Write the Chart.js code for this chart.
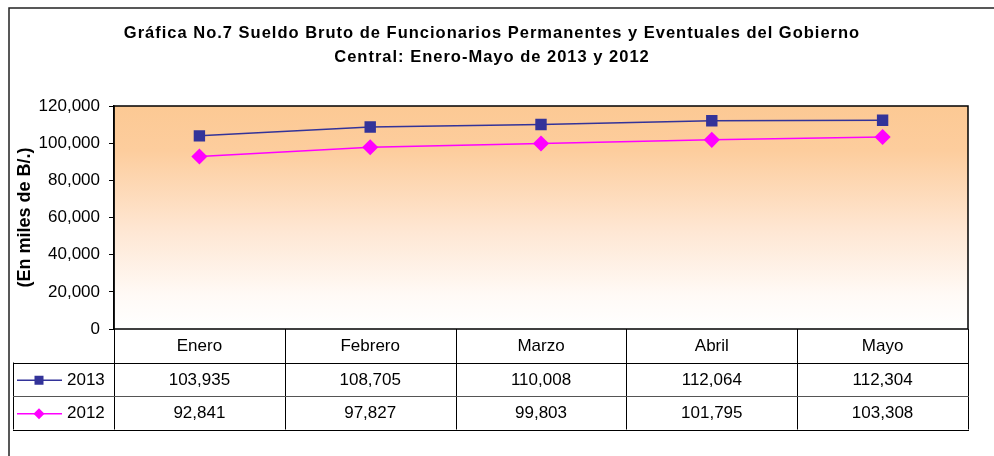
<!DOCTYPE html>
<html>
<head>
<meta charset="utf-8">
<script src="https://cdn.jsdelivr.net/npm/chart.js@4/dist/chart.umd.min.js"></script>
<style>
  html, body { margin: 0; padding: 0; background: #fff; }
  #wrap { width: 994px; height: 456px; }
</style>
</head>
<body>
<div id="wrap"><canvas id="chart" width="994" height="456"></canvas></div>
<script>
// data
const months = ["Enero", "Febrero", "Marzo", "Abril", "Mayo"];
const seriesNames = ["2013", "2012"];
const values2013 = [103935, 108705, 110008, 112064, 112304];
const values2012 = [92841, 97827, 99803, 101795, 103308];
const yTicks = [0, 20000, 40000, 60000, 80000, 100000, 120000];
const titleLines = ["Gráfica No.7 Sueldo Bruto de Funcionarios Permanentes y Eventuales del Gobierno",
                    "Central: Enero-Mayo de 2013 y 2012"];

const FONT = "'Liberation Sans', Arial, sans-serif";
const fmt = (v) => v.toLocaleString("en-US");

// background gradient, frame and title
const plotBack = {
    id: "plotBack",
    beforeDraw(chart) {
        const { ctx, chartArea: a } = chart;
        ctx.save();
        const g = ctx.createLinearGradient(0, a.top, 0, a.bottom);
        g.addColorStop(0, "#fcc994");
        g.addColorStop(0.2, "#fdcd9d");
        g.addColorStop(0.55, "#fee6d2");
        g.addColorStop(0.85, "#fffaf6");
        g.addColorStop(1, "#ffffff");
        ctx.fillStyle = g;
        ctx.fillRect(a.left, a.top, a.right - a.left, a.bottom - a.top);
        // outer frame (left + top)
        ctx.strokeStyle = "#222";
        ctx.lineWidth = 1.5;
        ctx.beginPath();
        ctx.moveTo(9, 456);
        ctx.lineTo(9, 8);
        ctx.lineTo(994, 8);
        ctx.stroke();
        // title (spaced out like the original)
        ctx.fillStyle = "#000";
        ctx.font = "bold 16.5px " + FONT;
        ctx.letterSpacing = "1px";
        ctx.textAlign = "center";
        ctx.textBaseline = "middle";
        ctx.fillText(titleLines[0], 492, 33);
        ctx.fillText(titleLines[1], 492, 57);
        ctx.restore();
    },
    afterDatasetsDraw(chart) {
        const { ctx, chartArea: a } = chart;
        ctx.save();
        ctx.strokeStyle = "#000";
        ctx.lineWidth = 1.5;
        ctx.strokeRect(a.left, a.top, a.right - a.left, a.bottom - a.top);
        ctx.restore();
    }
};

// data table under the plot
const dataTable = {
    id: "dataTable",
    afterDraw(chart) {
        const { ctx, chartArea: a } = chart;
        const xs = chart.scales.x;
        const rowH = 33.5;
        const legendLeft = 13;
        const colW = (a.right - a.left) / months.length;
        const y0 = a.bottom, y1 = y0 + rowH, y2 = y1 + rowH, y3 = y2 + rowH;
        ctx.save();
        ctx.strokeStyle = "#000";
        ctx.lineWidth = 1;
        ctx.beginPath();
        for (let i = 0; i <= months.length; i++) {
            const x = Math.round(a.left + i * colW) + 0.5;
            ctx.moveTo(x, y0);
            ctx.lineTo(x, y3);
        }
        ctx.moveTo(legendLeft + 0.5, y1);
        ctx.lineTo(legendLeft + 0.5, y3);
        [y1, y3].forEach((y) => {
            ctx.moveTo(legendLeft, Math.round(y) + 0.5);
            ctx.lineTo(a.right + 1, Math.round(y) + 0.5);
        });
        ctx.stroke();
        ctx.strokeStyle = "#555";
        ctx.beginPath();
        ctx.moveTo(legendLeft, Math.round(y2) + 0.5);
        ctx.lineTo(a.right + 1, Math.round(y2) + 0.5);
        ctx.stroke();

        ctx.fillStyle = "#000";
        ctx.font = "17px " + FONT;
        ctx.textAlign = "center";
        ctx.textBaseline = "middle";
        months.forEach((m, i) => {
            const x = xs.getPixelForValue(i);
            ctx.fillText(m, x, (y0 + y1) / 2 + 1);
            ctx.fillText(fmt(values2013[i]), x, (y1 + y2) / 2 + 1);
            ctx.fillText(fmt(values2012[i]), x, (y2 + y3) / 2 + 1);
        });

        // legend keys
        chart.data.datasets.forEach((ds, k) => {
            const cy = (k === 0 ? (y1 + y2) / 2 : (y2 + y3) / 2) + 1;
            ctx.strokeStyle = ds.borderColor;
            ctx.lineWidth = 1.5;
            ctx.beginPath();
            ctx.moveTo(17, cy);
            ctx.lineTo(62, cy);
            ctx.stroke();
            ctx.fillStyle = ds.pointBackgroundColor;
            if (k === 0) {
                ctx.fillRect(34.5, cy - 4.5, 9, 9);
            } else {
                ctx.beginPath();
                ctx.moveTo(39, cy - 5.5);
                ctx.lineTo(44.5, cy);
                ctx.lineTo(39, cy + 5.5);
                ctx.lineTo(33.5, cy);
                ctx.closePath();
                ctx.fill();
            }
            ctx.fillStyle = "#000";
            ctx.textAlign = "left";
            ctx.fillText(seriesNames[k], 67, cy);
        });
        ctx.restore();
    }
};

new Chart(document.getElementById("chart"), {
    type: "line",
    data: {
        labels: months,
        datasets: [{
            label: seriesNames[0],
            data: values2013,
            borderColor: "#333399",
            backgroundColor: "#333399",
            pointBackgroundColor: "#333399",
            pointBorderColor: "#333399",
            pointStyle: "rect",
            pointRadius: 7,
            borderWidth: 1.5,
            tension: 0
        }, {
            label: seriesNames[1],
            data: values2012,
            borderColor: "#ff00ff",
            backgroundColor: "#ff00ff",
            pointBackgroundColor: "#ff00ff",
            pointBorderColor: "#ff00ff",
            pointStyle: "rectRot",
            pointRadius: 7,
            borderWidth: 1.5,
            tension: 0
        }]
    },
    options: {
        responsive: false,
        animation: false,
        layout: { padding: { left: 0, right: 26, top: 106, bottom: 127 } },
        plugins: {
            legend: { display: false },
            tooltip: { enabled: false },
            title: { display: false }
        },
        scales: {
            x: {
                display: false,
                offset: true
            },
            y: {
                min: 0,
                max: 120000,
                afterBuildTicks(scale) {
                    scale.ticks = yTicks.map((v) => ({ value: v }));
                },
                afterFit(scale) { scale.width = 114; },
                ticks: {
                    color: "#000",
                    padding: 9,
                    font: { family: FONT, size: 17 },
                    callback: (v) => fmt(v)
                },
                grid: {
                    drawOnChartArea: false,
                    tickLength: 5,
                    color: "#000",
                    lineWidth: 1
                },
                border: { color: "#000", width: 1.5 },
                title: {
                    display: true,
                    text: "(En miles de B/.)",
                    color: "#000",
                    font: { family: FONT, size: 18, weight: "bold" },
                    padding: { top: 14, bottom: 0 }
                }
            }
        }
    },
    plugins: [plotBack, dataTable]
});
</script>
</body>
</html>
